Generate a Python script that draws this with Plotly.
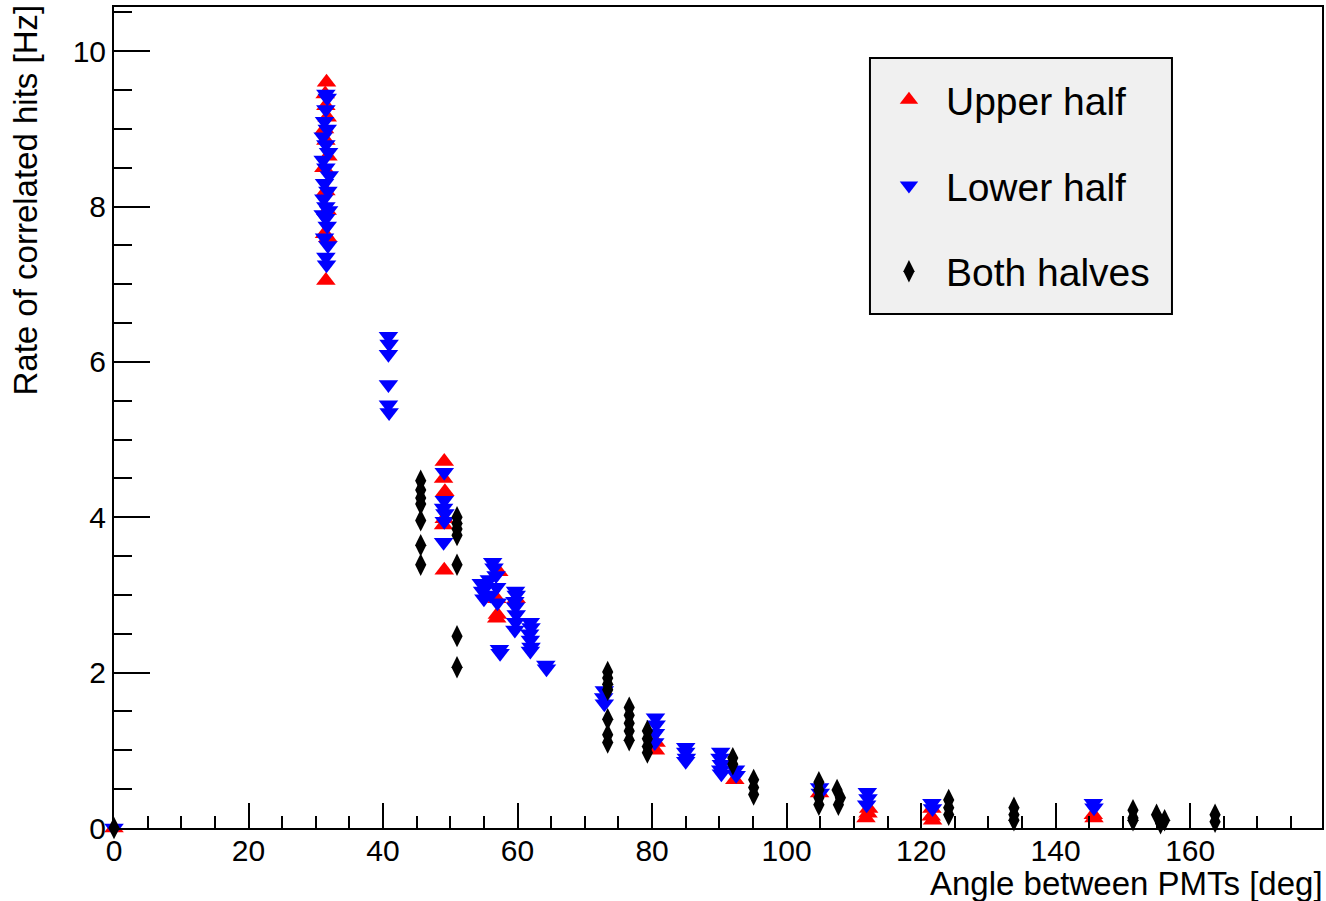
import plotly.graph_objects as go

# ---- data ----
upper_x = [0.0,
           31.6, 31.4, 31.5, 31.7, 31.3, 31.5, 31.8, 31.2, 31.5, 31.7, 31.3, 31.8, 31.5,
           49.1, 49.0, 49.2, 49.1, 49.0, 49.1,
           57.2, 56.9, 57.0, 56.9, 59.8,
           80.5, 80.6, 92.3, 104.9,
           112.1, 111.8, 112.2,
           121.6, 121.5, 121.7,
           145.6, 145.7]
upper_y = [0.0,
           9.60, 9.45, 9.30, 9.15, 9.00, 8.85, 8.65, 8.50, 8.20, 7.95, 7.65, 7.60, 7.05,
           4.72, 4.50, 4.33, 3.98, 3.90, 3.32,
           3.30, 2.95, 2.75, 2.70, 2.95,
           1.00, 1.10, 0.62, 0.45,
           0.19, 0.13, 0.25,
           0.25, 0.15, 0.10,
           0.17, 0.13]

lower_x = [0.0,
           31.5, 31.7, 31.5, 31.3, 31.7, 31.1, 31.5, 31.9, 31.1, 31.5, 32.0, 31.3, 31.8,
           31.2, 31.5, 31.9, 31.1, 31.5, 31.7, 31.3, 31.8, 31.5, 31.6,
           40.8, 40.9, 40.8, 40.8, 40.8, 40.9,
           49.1, 49.1, 49.0, 49.2, 49.1, 49.0,
           54.6, 54.8, 55.0, 55.2, 55.8, 56.0, 56.3, 56.5, 56.8, 56.9, 57.0, 57.3, 57.4,
           59.7, 59.8, 59.6, 59.7, 59.8, 59.7, 59.6,
           61.9, 62.0, 61.8, 61.9, 62.0, 61.9,
           64.2, 64.3,
           72.9, 72.8, 72.9,
           80.5, 80.6, 80.5, 80.4,
           85.0, 85.0, 85.1, 85.0,
           90.2, 90.1, 90.3, 90.2, 90.3,
           92.4, 92.5,
           104.9, 105.0,
           112.0, 112.1, 111.9,
           121.6, 121.7,
           145.6, 145.7]
lower_y = [0.0,
           9.45, 9.40, 9.25, 9.10, 9.00, 8.90, 8.80, 8.70, 8.60, 8.50, 8.40, 8.30, 8.20,
           8.10, 8.00, 7.95, 7.90, 7.85, 7.75, 7.60, 7.50, 7.35, 7.25,
           6.33, 6.23, 6.10, 5.71, 5.45, 5.35,
           4.58, 4.22, 4.12, 4.05, 3.95, 3.68,
           3.15, 3.05, 2.95, 3.10, 3.20, 3.00, 3.42, 3.35, 3.25, 3.10, 2.90, 2.30, 2.25,
           3.05, 3.00, 2.92, 2.85, 2.75, 2.65, 2.55,
           2.65, 2.58, 2.50, 2.42, 2.33, 2.28,
           2.10, 2.05,
           1.77, 1.68, 1.60,
           1.42, 1.33, 1.22, 1.10,
           1.04, 0.98, 0.90, 0.86,
           0.98, 0.90, 0.82, 0.75, 0.70,
           0.75, 0.68,
           0.52, 0.45,
           0.46, 0.38, 0.30,
           0.32, 0.25,
           0.32, 0.26]

both_x = [0.0,
          45.6, 45.6, 45.6, 45.6, 45.6, 45.6, 45.6,
          51.0, 51.0, 51.0, 51.0, 51.0, 51.0, 51.0,
          73.4, 73.4, 73.4, 73.4, 73.4, 73.4, 73.4,
          76.6, 76.6, 76.6, 76.6, 76.6,
          79.3, 79.3, 79.3, 79.3,
          92.0, 92.0,
          95.1, 95.1, 95.1,
          104.8, 104.8, 104.8, 104.8,
          107.5, 108.0, 107.7,
          124.1, 124.1, 124.1,
          133.8, 133.8, 133.8,
          151.5, 151.5, 151.5,
          155.0, 156.2, 155.6,
          163.7, 163.7]
both_y = [0.0,
          4.47, 4.35, 4.25, 4.17, 3.96, 3.64, 3.39,
          4.00, 3.92, 3.85, 3.77, 3.39, 2.47, 2.07,
          2.01, 1.93, 1.85, 1.78, 1.40, 1.20, 1.10,
          1.55, 1.45, 1.35, 1.25, 1.13,
          1.25, 1.15, 1.05, 0.97,
          0.90, 0.82,
          0.62, 0.52, 0.43,
          0.59, 0.49, 0.39, 0.30,
          0.49, 0.39, 0.30,
          0.36, 0.26, 0.17,
          0.26, 0.17, 0.10,
          0.23, 0.13, 0.10,
          0.17, 0.10, 0.06,
          0.17, 0.08]

series_names = ["Upper half", "Lower half", "Both halves"]
x_title = "Angle between PMTs [deg]"
y_title = "Rate of correlated hits [Hz]"

FONT = "Liberation Sans, Arial, Helvetica, sans-serif"

fig = go.Figure()
fig.add_trace(go.Scatter(x=upper_x, y=upper_y, mode="markers", name=series_names[0],
                         legendgroup="a", cliponaxis=False,
                         marker=dict(symbol="triangle-up", size=17, color="#ff0000",
                                     line=dict(width=0))))
fig.add_trace(go.Scatter(x=lower_x, y=lower_y, mode="markers", name=series_names[1],
                         legendgroup="b", cliponaxis=False,
                         marker=dict(symbol="triangle-down", size=17, color="#0000ff",
                                     line=dict(width=0))))
fig.add_trace(go.Scatter(x=both_x, y=both_y, mode="markers", name=series_names[2],
                         legendgroup="c", cliponaxis=False,
                         marker=dict(symbol="diamond-tall", size=16, color="#000000",
                                     line=dict(width=0))))

axis_common = dict(showgrid=False, zeroline=False, showline=True, linecolor="black",
                   linewidth=2, mirror=True, ticks="inside", tickcolor="black",
                   tickwidth=2, automargin=False,
                   tickfont=dict(family=FONT, size=30, color="black"))

fig.update_layout(
    width=1326, height=901,
    margin=dict(l=114, r=4, t=7, b=73, autoexpand=False),
    paper_bgcolor="white", plot_bgcolor="white",
    font=dict(family=FONT, color="black"),
    xaxis=dict(range=[0, 179.6], dtick=20, tick0=0, ticklen=25, ticklabelstandoff=-5,
               minor=dict(dtick=5, ticklen=12, ticks="inside", tickcolor="black", tickwidth=2),
               **axis_common),
    yaxis=dict(range=[0, 10.57], dtick=2, tick0=0, ticklen=36,
               minor=dict(dtick=0.5, ticklen=18, ticks="inside", tickcolor="black", tickwidth=2),
               **axis_common),
    legend=dict(x=0.6258, y=0.9257, xanchor="left", yanchor="top",
                bgcolor="rgba(0,0,0,0)", borderwidth=0,
                font=dict(family=FONT, size=39, color="black"),
                traceorder="grouped", tracegroupgap=32, itemwidth=64, indentation=2),
    showlegend=True,
    shapes=[
        dict(type="rect", xref="paper", yref="paper",
             x0=0.6258, x1=0.8758, y0=0.6261, y1=0.9379,
             fillcolor="#f0f0f0", line=dict(color="black", width=2), layer="above"),
    ],
    annotations=[
        dict(text=x_title, xref="paper", yref="paper", x=1, y=0, xanchor="right",
             yanchor="top", yshift=-35, xshift=3, showarrow=False,
             font=dict(family=FONT, size=33, color="black")),
        dict(text=y_title, xref="paper", yref="paper", x=0, y=1, xanchor="center",
             yanchor="top", xshift=-89, yshift=4, textangle=-90, showarrow=False,
             font=dict(family=FONT, size=33, color="black")),
    ],
)

fig.write_html("out.html", config={"displayModeBar": False},
               post_script="document.body.style.margin='0';")
